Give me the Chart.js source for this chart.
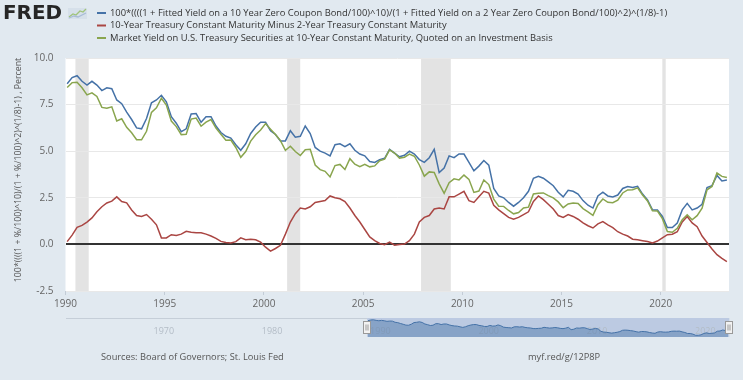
<!DOCTYPE html>
<html>
<head>
<meta charset="utf-8">
<script src="https://cdn.jsdelivr.net/npm/chart.js@4.4.0/dist/chart.umd.min.js"></script>
<style>
html, body { margin: 0; padding: 0; background: #e1e9f0; }
#wrap { position: relative; width: 743px; height: 380px; overflow: hidden; }
#main { position: absolute; left: 0; top: 0; }
#nav { position: absolute; left: 56px; top: 316px; }
</style>
</head>
<body>
<div id="wrap">
  <canvas id="main" width="743" height="380"></canvas>
  <canvas id="nav" width="684" height="23"></canvas>
</div>
<script>
// quarterly averages, 1990Q1 .. 2023Q2

// 100*((((1+y10/100)^10)/(1+y2/100)^2)^(1/8)-1)
var fwdYield = [
  8.62, 8.95, 9.05, 8.75,  8.55, 8.75, 8.55, 8.25,  8.40, 8.35, 7.75, 7.55,
  7.10, 6.70, 6.25, 6.20,  6.75, 7.60, 7.75, 8.00,  7.65, 6.85, 6.50, 6.05,
  6.20, 7.00, 7.02, 6.55,  6.85, 6.85, 6.35, 6.00,  5.80, 5.70, 5.35, 5.05,
  5.40, 5.95, 6.30, 6.55,  6.55, 6.10, 5.90, 5.55,  5.55, 6.10, 5.75, 5.80,
  6.35, 5.95, 5.20, 5.00,  4.90, 4.75, 5.35, 5.40,  5.25, 5.40, 5.05, 4.85,
  4.75, 4.45, 4.40, 4.55,  4.62, 5.10, 4.90, 4.70,  4.78, 5.00, 4.85, 4.55,
  4.40, 4.65, 5.10, 3.85,  4.10, 4.75, 4.65, 4.85,  4.85, 4.40, 3.95, 4.20,
  4.50, 4.25, 3.00, 2.60,  2.50, 2.25, 2.05, 2.25,  2.50, 2.85, 3.55, 3.65,
  3.55, 3.35, 3.15, 2.80,  2.55, 2.90, 2.85, 2.70,  2.35, 2.10, 1.95, 2.60,
  2.80, 2.60, 2.55, 2.65,  3.00, 3.10, 3.05, 3.12,  2.70, 2.38, 1.85, 1.85,
  1.50, 0.90, 0.90, 1.15,  1.85, 2.20, 1.85, 1.95,  2.15, 3.05, 3.15, 3.70,
  3.40, 3.45
];

// 10-year minus 2-year constant maturity
var spread10y2y = [
  0.15, 0.50, 0.92, 1.02,  1.20, 1.42, 1.75, 2.02,  2.22, 2.32, 2.55, 2.30,
  2.23, 1.85, 1.55, 1.50,  1.60, 1.35, 1.05, 0.35,  0.35, 0.52, 0.48, 0.55,
  0.70, 0.65, 0.62, 0.62,  0.55, 0.45, 0.32, 0.16,  0.10, 0.08, 0.15, 0.35,
  0.25, 0.27, 0.25, 0.12, -0.15, -0.36, -0.22, -0.05, 0.55, 1.20, 1.65, 1.95,
  1.90, 2.02, 2.25, 2.30,  2.35, 2.60, 2.50, 2.45,  2.30, 1.95, 1.55, 1.20,
  0.80, 0.40, 0.20, 0.05, -0.02, 0.12, -0.04, 0.00,  0.02, 0.20, 0.55, 1.20,
  1.45, 1.55, 1.90, 1.95,  1.90, 2.55, 2.55, 2.70,  2.85, 2.35, 2.25, 2.55,
  2.85, 2.75, 2.10, 1.85,  1.65, 1.45, 1.35, 1.45,  1.60, 1.75, 2.30, 2.60,
  2.40, 2.15, 1.90, 1.55,  1.45, 1.60, 1.50, 1.35,  1.15, 1.00, 0.88, 1.10,
  1.22, 1.05, 0.90, 0.68,  0.55, 0.45, 0.28, 0.25,  0.20, 0.15, 0.08, 0.18,
  0.35, 0.52, 0.55, 0.68,  1.20, 1.50, 1.15, 0.95,  0.45, 0.10, -0.25, -0.55,
  -0.75, -0.92
];

// 10-year constant maturity, investment basis
var gs10 = [
  8.42, 8.68, 8.70, 8.40,  8.02, 8.13, 7.94, 7.35,  7.30, 7.38, 6.62, 6.74,
  6.28, 5.99, 5.62, 5.61,  6.07, 7.08, 7.33, 7.84,  7.48, 6.62, 6.32, 5.89,
  5.91, 6.72, 6.78, 6.34,  6.56, 6.70, 6.24, 5.91,  5.59, 5.60, 5.20, 4.67,
  4.98, 5.54, 5.88, 6.14,  6.48, 6.18, 5.89, 5.57,  5.05, 5.27, 4.98, 4.77,
  5.08, 5.10, 4.26, 4.01,  3.92, 3.62, 4.23, 4.29,  4.02, 4.60, 4.30, 4.17,
  4.30, 4.16, 4.21, 4.49,  4.57, 5.07, 4.90, 4.63,  4.68, 4.85, 4.73, 4.26,
  3.66, 3.89, 3.86, 3.25,  2.74, 3.31, 3.52, 3.46,  3.72, 3.49, 2.79, 2.86,
  3.46, 3.21, 2.43, 2.05,  2.04, 1.82, 1.64, 1.71,  1.95, 2.00, 2.71, 2.75,
  2.76, 2.62, 2.50, 2.28,  1.97, 2.17, 2.22, 2.19,  1.92, 1.75, 1.56, 2.13,
  2.44, 2.26, 2.24, 2.37,  2.76, 2.92, 2.93, 3.03,  2.65, 2.33, 1.80, 1.79,
  1.38, 0.69, 0.65, 0.86,  1.32, 1.59, 1.32, 1.54,  1.94, 2.93, 3.11, 3.83,
  3.65, 3.59
];

var seriesNames = [
  '100*((((1 + Fitted Yield on a 10 Year Zero Coupon Bond/100)^10)/(1 + Fitted Yield on a 2 Year Zero Coupon Bond/100)^2)^(1/8)-1)',
  '10-Year Treasury Constant Maturity Minus 2-Year Treasury Constant Maturity',
  'Market Yield on U.S. Treasury Securities at 10-Year Constant Maturity, Quoted on an Investment Basis'
];
var seriesColors = ['#4572a7', '#aa4643', '#89a54e'];

// recession bands (decimal years)
var recessions = [[1990.5, 1991.17], [2001.17, 2001.83], [2007.92, 2009.42], [2020.08, 2020.25]];

var xTicks = [1990, 1995, 2000, 2005, 2010, 2015, 2020];
var yTicks = [-2.5, 0, 2.5, 5, 7.5, 10];
var navYears = [1970, 1980, 1990, 2000, 2010, 2020];
var yTitle = '100*((((1 + %/100)^10)/(1 + %/100)^2)^(1/8)-1) , Percent';

// quarter labels
var quarters = [];
for (var i = 0; i < gs10.length; i++) {
  quarters.push((1990 + Math.floor(i / 4)) + 'Q' + (i % 4 + 1));
}
function quarterX(label) {
  var yr = +label.slice(0, 4), q = +label.slice(5);
  return yr + (q - 1) / 4 + 1 / 12;
}
function points(values) {
  return values.map(function (v, i) { return { x: quarterX(quarters[i]), y: v }; });
}

var FONT = '"Open Sans", "DejaVu Sans", sans-serif';

function fitSize(ctx, text, width, weight) {
  ctx.font = (weight || '') + ' 10px ' + FONT;
  return 10 * width / ctx.measureText(text).width;
}

var framePlugin = {
  id: 'frame',
  beforeDraw: function (chart) {
    var ctx = chart.ctx, a = chart.chartArea, xs = chart.scales.x;
    ctx.save();
    ctx.fillStyle = '#ffffff';
    ctx.fillRect(a.left, a.top, a.right - a.left, a.bottom - a.top);
    ctx.fillStyle = '#e3e3e3';
    recessions.forEach(function (r) {
      var x0 = xs.getPixelForValue(r[0]), x1 = xs.getPixelForValue(r[1]);
      ctx.fillRect(x0, a.top, x1 - x0, a.bottom - a.top);
    });
    ctx.restore();
  },
  afterDraw: function (chart) {
    var ctx = chart.ctx;
    ctx.save();

    // FRED logo
    ctx.save();
    ctx.font = 'bold 19px "DejaVu Sans", sans-serif';
    var w = ctx.measureText('FRED').width;
    ctx.translate(3, 19);
    ctx.scale(59 / w, 1);
    ctx.fillStyle = '#262626';
    ctx.textBaseline = 'alphabetic';
    ctx.fillText('FRED', 0, 0);
    ctx.restore();
    ctx.fillStyle = '#d6e0ea';
    ctx.fillRect(68, 8, 19, 11);
    ctx.strokeStyle = '#9fc37a';
    ctx.lineWidth = 1.3;
    ctx.beginPath();
    ctx.moveTo(69, 17); ctx.lineTo(73, 14); ctx.lineTo(76, 15); ctx.lineTo(80, 11); ctx.lineTo(83, 12); ctx.lineTo(86, 9);
    ctx.stroke();
    ctx.strokeStyle = '#a9bcd6';
    ctx.beginPath();
    ctx.moveTo(69, 18); ctx.lineTo(74, 16); ctx.lineTo(78, 17); ctx.lineTo(86, 13);
    ctx.stroke();

    // legend
    var size = fitSize(ctx, seriesNames[2], 443);
    var rows = [13, 25.5, 38];
    ctx.font = size + 'px ' + FONT;
    ctx.textBaseline = 'middle';
    ctx.textAlign = 'left';
    chart.data.datasets.forEach(function (ds, i) {
      ctx.strokeStyle = ds.borderColor;
      ctx.lineWidth = 2;
      ctx.beginPath();
      ctx.moveTo(97, rows[i]);
      ctx.lineTo(106, rows[i]);
      ctx.stroke();
      ctx.fillStyle = '#333333';
      ctx.fillText(ds.label, 110, rows[i]);
    });

    // y axis title
    ctx.save();
    ctx.translate(18, 170);
    ctx.rotate(-Math.PI / 2);
    ctx.font = fitSize(ctx, yTitle, 225) + 'px ' + FONT;
    ctx.fillStyle = '#555555';
    ctx.textAlign = 'center';
    ctx.textBaseline = 'middle';
    ctx.fillText(yTitle, 0, 0);
    ctx.restore();

    // sources / link
    var src = 'Sources: Board of Governors; St. Louis Fed';
    ctx.font = fitSize(ctx, src, 183) + 'px ' + FONT;
    ctx.fillStyle = '#555555';
    ctx.textAlign = 'left';
    ctx.fillText(src, 101, 357);
    ctx.fillText('myf.red/g/12P8P', 528, 357);

    ctx.restore();
  }
};

new Chart(document.getElementById('main'), {
  type: 'line',
  data: {
    datasets: [
      { label: seriesNames[0], data: points(fwdYield), borderColor: seriesColors[0], order: 2 },
      { label: seriesNames[1], data: points(spread10y2y), borderColor: seriesColors[1], order: 1 },
      { label: seriesNames[2], data: points(gs10), borderColor: seriesColors[2], order: 0 }
    ]
  },
  options: {
    responsive: false,
    animation: false,
    devicePixelRatio: 1,
    elements: {
      line: { borderWidth: 1.5, tension: 0, fill: false },
      point: { radius: 0 }
    },
    layout: { padding: { left: 0, top: 58, right: 14, bottom: 69 } },
    plugins: { legend: { display: false }, tooltip: { enabled: false } },
    scales: {
      x: {
        type: 'linear',
        min: 1990,
        max: 2023.44,
        afterBuildTicks: function (s) { s.ticks = xTicks.map(function (v) { return { value: v }; }); },
        afterFit: function (s) { s.height = 20; },
        grid: { drawOnChartArea: false, tickLength: 4, color: '#c3ccd6' },
        border: { display: false },
        ticks: {
          padding: 3,
          color: '#666666',
          font: { family: FONT, size: 10 },
          maxRotation: 0,
          callback: function (v) { return String(v); }
        }
      },
      y: {
        min: -2.5,
        max: 10,
        afterBuildTicks: function (s) { s.ticks = yTicks.map(function (v) { return { value: v }; }); },
        afterFit: function (s) { s.width = 65.5; },
        grid: {
          drawTicks: false,
          color: function (c) { return c.tick && c.tick.value === 0 ? '#333333' : '#e8e8e8'; },
          lineWidth: function (c) { return c.tick && c.tick.value === 0 ? 2 : 1; }
        },
        border: { display: false },
        ticks: {
          padding: 12,
          color: '#666666',
          font: { family: FONT, size: 10 },
          callback: function (v) { return v.toFixed(1); }
        }
      }
    }
  },
  plugins: [framePlugin]
});

// navigator
var navPlugin = {
  id: 'navFrame',
  beforeDatasetsDraw: function (chart) {
    var ctx = chart.ctx, a = chart.chartArea, xs = chart.scales.x;
    var s0 = xs.getPixelForValue(1990), s1 = a.right;
    ctx.save();
    ctx.fillStyle = 'rgba(102,133,194,0.3)';
    ctx.fillRect(s0, a.top, s1 - s0, a.bottom - a.top);
    ctx.strokeStyle = '#c5ced8';
    ctx.lineWidth = 1;
    ctx.beginPath();
    ctx.moveTo(a.left, a.top + 0.5);
    ctx.lineTo(s0, a.top + 0.5);
    ctx.stroke();
    ctx.font = '9px ' + FONT;
    ctx.fillStyle = '#b3bcc6';
    ctx.textBaseline = 'middle';
    ctx.textAlign = 'left';
    navYears.forEach(function (yr) {
      ctx.fillText(String(yr), xs.getPixelForValue(yr) + 3, a.top + 13);
    });
    ctx.restore();
  },
  afterDatasetsDraw: function (chart) {
    var ctx = chart.ctx, a = chart.chartArea, xs = chart.scales.x;
    [xs.getPixelForValue(1990), a.right].forEach(function (hx) {
      var x = Math.round(hx) - 3.5, y = a.top + 3.5;
      ctx.save();
      ctx.fillStyle = '#f2f2f2';
      ctx.strokeStyle = '#999999';
      ctx.lineWidth = 1;
      ctx.fillRect(x, y, 7, 12);
      ctx.strokeRect(x, y, 7, 12);
      ctx.beginPath();
      ctx.moveTo(x + 2.5, y + 3); ctx.lineTo(x + 2.5, y + 9);
      ctx.moveTo(x + 4.5, y + 3); ctx.lineTo(x + 4.5, y + 9);
      ctx.stroke();
      ctx.restore();
    });
  }
};

new Chart(document.getElementById('nav'), {
  type: 'line',
  data: {
    datasets: [{
      data: points(fwdYield),
      borderColor: seriesColors[0],
      borderWidth: 1,
      backgroundColor: 'rgba(69,114,167,0.45)',
      fill: 'origin',
      pointRadius: 0,
      tension: 0
    }]
  },
  options: {
    responsive: false,
    animation: false,
    devicePixelRatio: 1,
    layout: { padding: { left: 10, right: 10.7, top: 2, bottom: 2 } },
    plugins: { legend: { display: false }, tooltip: { enabled: false } },
    scales: {
      x: { type: 'linear', display: false, min: 1962.2, max: 2023.44 },
      y: { display: false, min: 0, max: 10 }
    }
  },
  plugins: [navPlugin]
});
</script>
</body>
</html>
